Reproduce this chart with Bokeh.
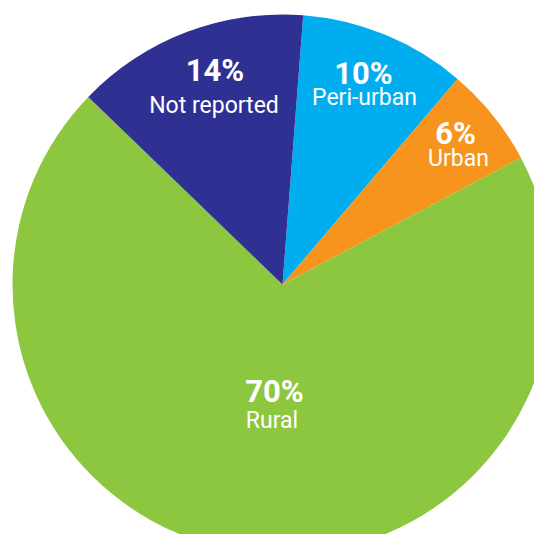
import math
from bokeh.plotting import figure
from bokeh.models import ColumnDataSource, Range1d
from bokeh.core.properties import value
from bokeh.embed import file_html
from bokeh.resources import INLINE

# Data (clockwise from the top)
categories = ["Peri-urban", "Urban", "Rural", "Not reported"]
shares = [10, 6, 70, 14]
colors = ["#00AEEF", "#F7941D", "#8DC63F", "#2E3192"]
pct_labels = ["10%", "6%", "70%", "14%"]

# Layout (pixels relative to pie centre, y up)
START_DEG = 85.6
R = 270
pct_x = [81, 173, -8, -67.5]
pct_y = [211, 151, -107, 214]
name_x = [82, 176, -10.5, -68.5]
name_y = [187, 126, -136, 179]

total = float(sum(shares))
starts, ends = [], []
a = START_DEG
for s in shares:
    sweep = 360.0 * s / total
    starts.append(math.radians(a))
    ends.append(math.radians(a - sweep))
    a -= sweep

src = ColumnDataSource(dict(cat=categories, share=shares, color=colors,
                            start=starts, end=ends))

p = figure(width=534, height=534, output_backend="svg", toolbar_location=None,
           x_range=Range1d(-282, 252), y_range=Range1d(-250, 284),
           min_border=0)
p.axis.visible = False
p.grid.visible = False
p.outline_line_color = None
p.background_fill_color = "white"

p.wedge(x=0, y=0, radius=R, start_angle="start", end_angle="end",
        direction="clock", fill_color="color", line_color=None, source=src)

p.text(x=pct_x, y=pct_y, text=pct_labels, text_color="white",
       text_font=value("Roboto"), text_font_style="bold",
       text_font_size="31px", text_align="center", text_baseline="alphabetic")
p.text(x=name_x, y=name_y, text=categories, text_color="white",
       text_font=value("Roboto"), text_font_size="23px",
       text_align="center", text_baseline="alphabetic")

open("out.html", "w").write(file_html(p, INLINE))
